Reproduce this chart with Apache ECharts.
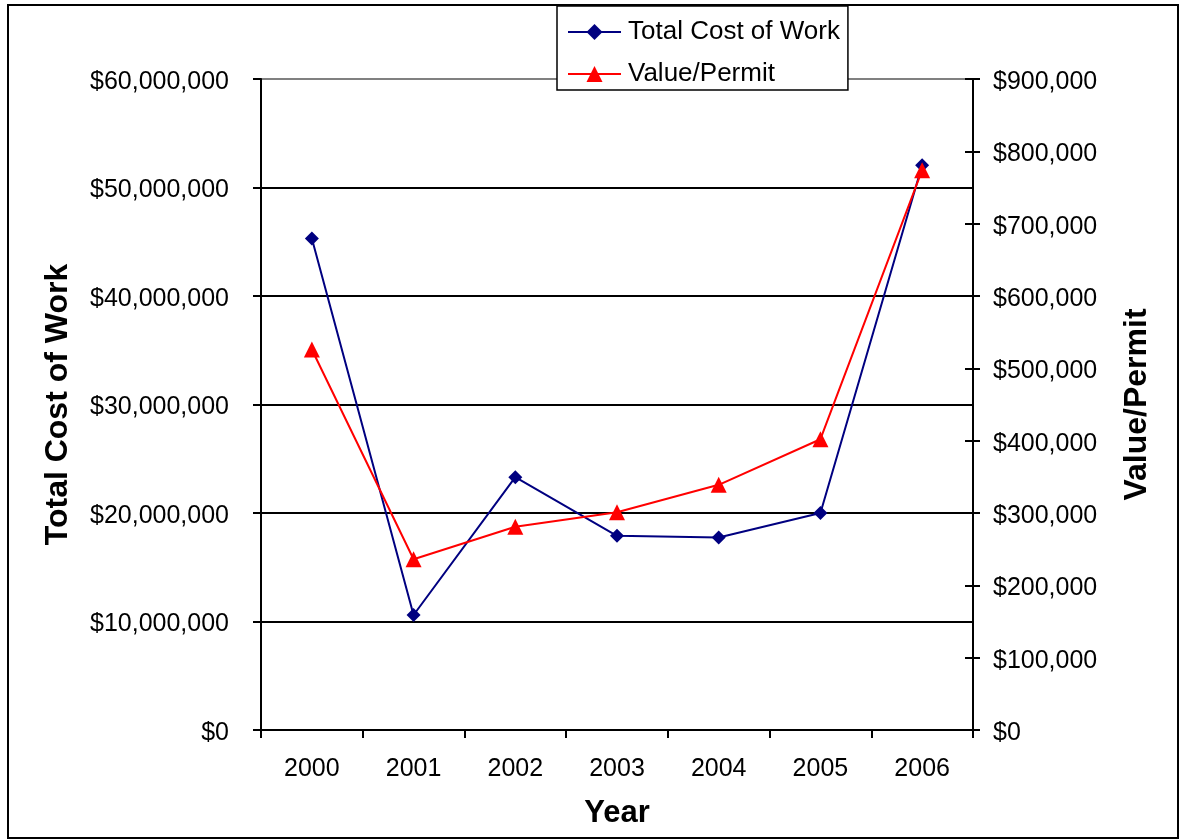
<!DOCTYPE html>
<html>
<head>
<meta charset="utf-8">
<script src="https://cdn.jsdelivr.net/npm/echarts@6/dist/echarts.min.js"></script>
<style>
  html, body { margin: 0; padding: 0; background: #fff; }
  #chart { width: 1180px; height: 840px; }
</style>
</head>
<body>
<div id="chart"></div>
<script>
// Building permit summary, 2000–2006
const years = ['2000', '2001', '2002', '2003', '2004', '2005', '2006'];
const totalCostOfWork = [45300000, 10600000, 23300000, 17900000, 17750000, 20000000, 52050000];
const valuePerPermit = [526000, 236000, 281000, 301000, 339000, 402000, 774000];

const costAxis = { min: 0, max: 60000000, interval: 10000000 };
const permitAxis = { min: 0, max: 900000, interval: 100000 };

const FONT = '"Liberation Sans", Arial, sans-serif';
const dollars = v => '{v|$' + Number(v).toLocaleString('en-US') + '}';

const chart = echarts.init(document.getElementById('chart'), null, { renderer: 'canvas' });

const axisTitle = { fontFamily: FONT, fontSize: 32, fontWeight: 'bold', color: '#000' };
const tickText = { fontFamily: FONT, fontSize: 25, color: '#000' };
// value labels sit a little below their tick marks
const valueRich = { v: { fontFamily: FONT, fontSize: 25, color: '#000', padding: [6, 0, 0, 0] } };

chart.setOption({
  animation: false,
  backgroundColor: '#fff',
  graphic: [{
    type: 'rect',
    z: -10,
    shape: { x: 8, y: 5, width: 1170, height: 833 },
    style: { fill: 'none', stroke: '#000', lineWidth: 2 }
  }],
  grid: { left: 261, right: 207, top: 79, bottom: 110, containLabel: false },
  legend: {
    orient: 'vertical',
    left: 557,
    top: 6,
    padding: [13, 8, 3, 10],
    itemGap: 16,
    itemWidth: 53,
    itemHeight: 20,
    backgroundColor: '#fff',
    borderColor: '#000',
    borderWidth: 1.5,
    borderRadius: 0,
    textStyle: { fontFamily: FONT, fontSize: 26, color: '#000', padding: [0, 0, 0, 2] },
    data: ['Total Cost of Work', 'Value/Permit']
  },
  xAxis: {
    type: 'category',
    data: years,
    boundaryGap: true,
    name: 'Year',
    nameLocation: 'middle',
    nameGap: 68,
    nameTextStyle: Object.assign({}, axisTitle, { fontSize: 31 }),
    axisLine: { lineStyle: { color: '#000', width: 2 } },
    axisTick: { show: true, length: 8, alignWithLabel: false, lineStyle: { color: '#000', width: 2 } },
    axisLabel: Object.assign({ margin: 27 }, tickText),
    splitLine: { show: false }
  },
  yAxis: [
    {
      type: 'value',
      position: 'left',
      min: costAxis.min, max: costAxis.max, interval: costAxis.interval,
      name: 'Total Cost of Work',
      nameLocation: 'middle',
      nameGap: 187,
      nameTextStyle: axisTitle,
      axisLine: { show: true, lineStyle: { color: '#000', width: 2 } },
      axisTick: { show: true, length: 8, lineStyle: { color: '#000', width: 2 } },
      axisLabel: Object.assign({ margin: 32, formatter: dollars, rich: valueRich }, tickText),
      splitLine: {
        show: true,
        lineStyle: { color: ['#000', '#000', '#000', '#000', '#000', '#000', '#808080'], width: 2 }
      }
    },
    {
      type: 'value',
      position: 'right',
      min: permitAxis.min, max: permitAxis.max, interval: permitAxis.interval,
      name: 'Value/Permit',
      nameLocation: 'middle',
      nameGap: 148,
      nameTextStyle: axisTitle,
      axisLine: { show: true, lineStyle: { color: '#000', width: 2 } },
      axisTick: { show: true, length: 7, lineStyle: { color: '#000', width: 2 } },
      axisLabel: Object.assign({ margin: 20, formatter: dollars, rich: valueRich }, tickText),
      splitLine: { show: false }
    },
    {
      // inner half of the crossing tick marks on the right axis
      type: 'value',
      position: 'right',
      min: permitAxis.min, max: permitAxis.max, interval: permitAxis.interval,
      axisLine: { show: false },
      axisTick: { show: true, inside: true, length: 8, lineStyle: { color: '#000', width: 2 } },
      axisLabel: { show: false },
      splitLine: { show: false }
    }
  ],
  series: [
    {
      name: 'Total Cost of Work',
      type: 'line',
      yAxisIndex: 0,
      data: totalCostOfWork,
      symbol: 'diamond',
      symbolSize: 14,
      showAllSymbol: true,
      lineStyle: { color: '#000080', width: 2 },
      itemStyle: { color: '#000080' },
      z: 3
    },
    {
      name: 'Value/Permit',
      type: 'line',
      yAxisIndex: 1,
      data: valuePerPermit,
      symbol: 'triangle',
      symbolSize: 16,
      showAllSymbol: true,
      lineStyle: { color: '#ff0000', width: 2 },
      itemStyle: { color: '#ff0000' },
      z: 4
    }
  ]
});
</script>
</body>
</html>
